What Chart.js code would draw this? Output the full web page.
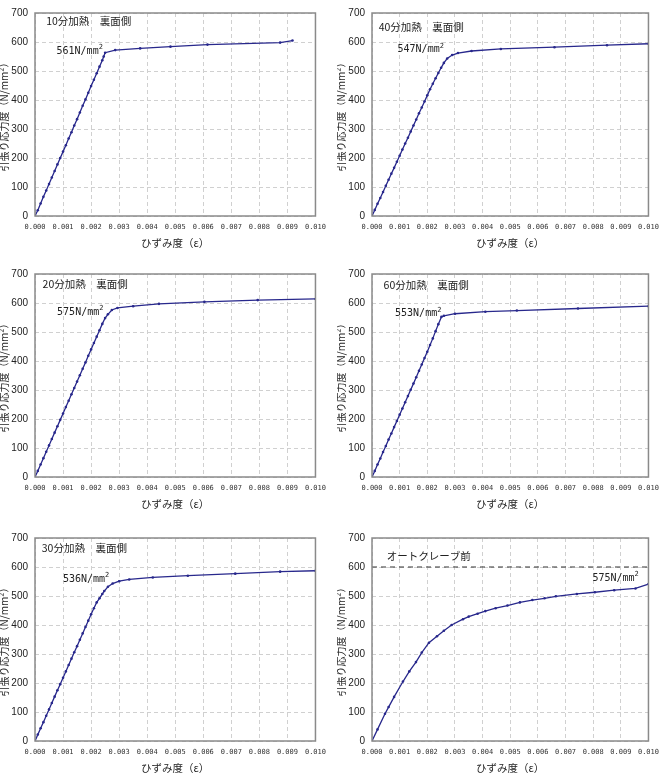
<!DOCTYPE html>
<html>
<head>
<meta charset="utf-8">
<script src="https://cdn.jsdelivr.net/npm/chart.js@4.4.1/dist/chart.umd.min.js"></script>
<style>
html, body { margin: 0; padding: 0; background: #fff; overflow: hidden; }
canvas { position: absolute; }
</style>
</head>
<body>
<canvas id="c10" width="333" height="256" style="left:0;top:0"></canvas>
<canvas id="c40" width="329" height="256" style="left:337px;top:0"></canvas>
<canvas id="c20" width="333" height="256" style="left:0;top:261px"></canvas>
<canvas id="c60" width="329" height="256" style="left:337px;top:261px"></canvas>
<canvas id="c30" width="333" height="256" style="left:0;top:525px"></canvas>
<canvas id="cAC" width="329" height="256" style="left:337px;top:525px"></canvas>
<script>
// tick labels
var xTicks = [0, 0.001, 0.002, 0.003, 0.004, 0.005, 0.006, 0.007, 0.008, 0.009, 0.010];
var yTicks = [0, 100, 200, 300, 400, 500, 600, 700];

// 10分加熱 裏面側
var strain10 = [0, 0.0001, 0.0002, 0.0003, 0.0004, 0.0005, 0.0006, 0.0007, 0.0008, 0.0009, 0.0010, 0.0011, 0.0012,
  0.0013, 0.0014, 0.0015, 0.0016, 0.0017, 0.0018, 0.0019, 0.0020, 0.0021, 0.0022, 0.0023, 0.0024, 0.00245, 0.0025,
  0.00286, 0.00375, 0.00483, 0.00615, 0.00874, 0.00918];
var stress10 = [0, 20, 43, 66, 88, 110, 133, 155, 178, 200, 222, 244, 267,
  289, 312, 334, 357, 380, 402, 425, 448, 470, 492, 515, 537, 550, 563,
  572, 578, 584, 591, 598, 605];

// 20分加熱 裏面側
var strain20 = [0, 0.0001, 0.0002, 0.0003, 0.0004, 0.0005, 0.0006, 0.0007, 0.0008, 0.0009, 0.0010, 0.0011, 0.0012,
  0.0013, 0.0014, 0.0015, 0.0016, 0.0017, 0.0018, 0.0019, 0.0020, 0.0021, 0.0022, 0.0023, 0.0024, 0.0025,
  0.0026, 0.00274, 0.00294, 0.0035, 0.00442, 0.00604, 0.00794, 0.0100];
var stress20 = [0, 21, 43, 65, 87, 109, 131, 153, 175, 197, 219, 241, 263,
  285, 307, 329, 351, 373, 395, 418, 440, 462, 484, 506, 528, 548,
  561, 576, 583, 589, 597, 604, 610, 614];

// 30分加熱 裏面側
var strain30 = [0, 0.0001, 0.0002, 0.0003, 0.0004, 0.0005, 0.0006, 0.0007, 0.0008, 0.0009, 0.0010, 0.0011, 0.0012,
  0.0013, 0.0014, 0.0015, 0.0016, 0.0017, 0.0018, 0.0019, 0.0020, 0.0021, 0.0022,
  0.0023, 0.0024, 0.00247, 0.0026, 0.00277, 0.0030, 0.00336, 0.0042, 0.00545, 0.00714, 0.00874, 0.0100];
var stress30 = [0, 22, 44, 65, 87, 109, 131, 153, 175, 196, 218, 240, 262,
  284, 306, 327, 349, 371, 393, 415, 437, 458, 478,
  492, 507, 517, 532, 543, 551, 557, 564, 570, 577, 584, 587];

// 40分加熱 裏面側
var strain40 = [0, 0.0001, 0.0002, 0.0003, 0.0004, 0.0005, 0.0006, 0.0007, 0.0008, 0.0009, 0.0010, 0.0011, 0.0012,
  0.0013, 0.0014, 0.0015, 0.0016, 0.0017, 0.0018, 0.0019, 0.0020, 0.0021, 0.0022, 0.0023,
  0.0024, 0.0025, 0.0026, 0.00272, 0.0029, 0.00311, 0.0036, 0.00466, 0.0066, 0.0085, 0.0100];
var stress40 = [0, 21, 42, 62, 83, 104, 125, 146, 166, 187, 208, 229, 250,
  270, 291, 312, 333, 354, 374, 395, 416, 437, 456, 475,
  493, 511, 528, 543, 555, 562, 569, 576, 582, 589, 594];

// 60分加熱 裏面側
var strain60 = [0, 0.0001, 0.0002, 0.0003, 0.0004, 0.0005, 0.0006, 0.0007, 0.0008, 0.0009, 0.0010, 0.0011, 0.0012,
  0.0013, 0.0014, 0.0015, 0.0016, 0.0017, 0.0018, 0.0019, 0.0020, 0.0021, 0.0022, 0.0023, 0.0024,
  0.00251, 0.0026, 0.0030, 0.0041, 0.00524, 0.00745, 0.0100];
var stress60 = [0, 21, 43, 64, 86, 107, 129, 150, 172, 193, 215, 236, 258,
  279, 301, 322, 344, 366, 388, 410, 432, 455, 478, 503, 527,
  552, 556, 563, 570, 574, 581, 589];

// オートクレーブ前
var strainAC = [0, 0.0002, 0.00047, 0.0006, 0.0008, 0.00112, 0.00135, 0.00159, 0.0018, 0.00206, 0.00235, 0.0026, 0.00288,
  0.00329, 0.0035, 0.00382, 0.0041, 0.00447, 0.0049, 0.00535, 0.0058, 0.00624, 0.00665, 0.00741, 0.00806,
  0.00876, 0.00953, 0.0100];
var stressAC = [0, 40, 94, 117, 152, 205, 240, 272, 305, 339, 361, 380, 400,
  420, 429, 439, 448, 458, 467, 478, 486, 492, 499, 507, 513,
  520, 526, 541];
var refStrain = [0, 0.010];
var refStress = [600, 600];

var LINE = '#28288c';

function pts(xs, ys) {
  return xs.map(function (x, i) { return { x: x, y: ys[i] }; });
}

var panels = [
  { id: 'c10', title: '10分加熱　裏面側', strain: strain10, stress: stress10, note: '561', noteAt: [0.00242, 569], titleAt: [0.0004, 671], right: 15 },
  { id: 'c40', title: '40分加熱　裏面側', strain: strain40, stress: stress40, note: '547', noteAt: [0.0026, 573], titleAt: [0.00024, 652], right: 10 },
  { id: 'c20', title: '20分加熱　裏面側', strain: strain20, stress: stress20, note: '575', noteAt: [0.00244, 567], titleAt: [0.00027, 667], right: 15 },
  { id: 'c60', title: '60分加熱　裏面側', strain: strain60, stress: stress60, note: '553', noteAt: [0.00251, 563], titleAt: [0.00042, 663], right: 10 },
  { id: 'c30', title: '30分加熱　裏面側', strain: strain30, stress: stress30, note: '536', noteAt: [0.00265, 558], titleAt: [0.00024, 667], right: 15 },
  { id: 'cAC', title: 'オートクレーブ前', strain: strainAC, stress: stressAC, note: '575', noteAt: [0.00965, 560], titleAt: [0.00053, 637], right: 10, ref: true }
];

function makeDecor(p) {
  return {
    id: 'decor',
    afterDraw: function (chart) {
      var ctx = chart.ctx, a = chart.chartArea;
      var xs = chart.scales.x, ys = chart.scales.y;
      ctx.save();
      // plot frame
      ctx.strokeStyle = '#8a8a8a';
      ctx.lineWidth = 1.5;
      ctx.strokeRect(a.left, a.top, a.right - a.left, a.bottom - a.top);
      // panel title
      ctx.fillStyle = '#222';
      ctx.textBaseline = 'middle';
      ctx.textAlign = 'left';
      ctx.font = '10.5px "Noto Sans CJK JP"';
      ctx.fillText(p.title, xs.getPixelForValue(p.titleAt[0]), ys.getPixelForValue(p.titleAt[1]));
      // yield stress note, right aligned at anchor
      var main = p.note + 'N/mm';
      ctx.font = '7px "DejaVu Sans Mono"';
      var supW = ctx.measureText('2').width;
      ctx.font = '10px "DejaVu Sans Mono"';
      var mw = ctx.measureText(main).width;
      var rx = xs.getPixelForValue(p.noteAt[0]);
      var ry = ys.getPixelForValue(p.noteAt[1]);
      ctx.fillText(main, rx - mw - supW, ry);
      ctx.font = '7px "DejaVu Sans Mono"';
      ctx.fillText('2', rx - supW, ry - 4);
      ctx.restore();
    }
  };
}

panels.forEach(function (p) {
  var datasets = [{
    data: pts(p.strain, p.stress),
    borderColor: LINE,
    backgroundColor: LINE,
    borderWidth: 1.3,
    pointRadius: 1.3,
    pointBorderWidth: 0,
    pointBackgroundColor: LINE,
    tension: 0
  }];
  if (p.ref) {
    datasets.push({
      data: pts(refStrain, refStress),
      borderColor: '#333',
      borderWidth: 1,
      borderDash: [5, 4],
      pointRadius: 0
    });
  }
  new Chart(document.getElementById(p.id), {
    type: 'scatter',
    data: { datasets: datasets },
    plugins: [makeDecor(p)],
    options: {
      responsive: false,
      animation: false,
      showLine: true,
      layout: { padding: { top: 6, right: p.right, left: 0, bottom: 0 } },
      plugins: { legend: { display: false }, tooltip: { enabled: false } },
      scales: {
        x: {
          type: 'linear', min: 0, max: 0.010,
          afterBuildTicks: function (s) { s.ticks = xTicks.map(function (v) { return { value: v }; }); },
          afterFit: function (s) { s.height = 40; },
          grid: { color: '#d0d0d0', lineWidth: 1, drawTicks: false },
          border: { display: false, dash: [4, 3] },
          ticks: {
            autoSkip: false, maxRotation: 0, padding: 7, color: '#333',
            font: { family: '"DejaVu Sans Mono"', size: 7 },
            callback: function (v) { return Number(v).toFixed(3); }
          },
          title: {
            display: true, text: 'ひずみ度（ε）', color: '#222',
            font: { family: '"Noto Sans CJK JP"', size: 10.5 },
            padding: { top: 0, bottom: 7 }
          }
        },
        y: {
          min: 0, max: 700,
          afterBuildTicks: function (s) { s.ticks = yTicks.map(function (v) { return { value: v }; }); },
          afterFit: function (s) { s.width = 35; },
          grid: { color: '#d0d0d0', lineWidth: 1, drawTicks: false },
          border: { display: false, dash: [4, 3] },
          ticks: {
            padding: 7, color: '#222',
            font: { family: '"Liberation Sans", Arial, sans-serif', size: 10 }
          },
          title: {
            display: true, text: '引張り応力度（N/mm²）', color: '#222',
            font: { family: '"Noto Sans CJK JP"', size: 10 },
            padding: { top: -2, bottom: 0 }
          }
        }
      }
    }
  });
});
</script>
</body>
</html>
